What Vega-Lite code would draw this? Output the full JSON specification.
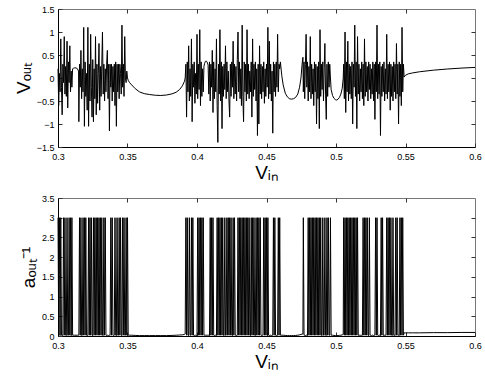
{
"$schema":"https://vega.github.io/schema/vega-lite/v6.json",
"background":"white",
"padding":{"left":13,"top":4,"right":10,"bottom":2},
"spacing":10,
"config":{"view":{"stroke":"#777","strokeWidth":1},"font":"Liberation Sans",
"axis":{"grid":false,"labelFont":"Liberation Sans","labelFontSize":9,"labelColor":"black","labelFlush":false,"labelOverlap":false,"tickSize":-4,"tickColor":"#333","domainColor":"black","domainWidth":1,"titleFont":"Liberation Sans","titleFontSize":19,"titleFontWeight":"normal","titleColor":"black"}},
"datasets":{"d":[
{"vin":0.3,"vout":0.2,"ainv":3},{"vin":0.3005,"vout":-0.6,"ainv":0.02},{"vin":0.301,"vout":0.1,"ainv":3},{"vin":0.3015,"vout":-0.3,"ainv":0.01},{"vin":0.302,"vout":0.85,"ainv":3},{"vin":0.3025,"vout":-0.2,"ainv":0.02},{"vin":0.303,"vout":-0.8,"ainv":0.02},{"vin":0.3035,"vout":0.3,"ainv":0.01},{"vin":0.304,"vout":-0.1,"ainv":3},{"vin":0.3045,"vout":0.9,"ainv":0.02},{"vin":0.305,"vout":-0.35,"ainv":3},{"vin":0.3055,"vout":0.25,"ainv":0.02},{"vin":0.306,"vout":-0.4,"ainv":0.01},{"vin":0.3065,"vout":0.8,"ainv":3},{"vin":0.307,"vout":-0.65,"ainv":0.02},{"vin":0.3075,"vout":0.35,"ainv":0.02},{"vin":0.308,"vout":-0.1,"ainv":3},{"vin":0.3085,"vout":0.7,"ainv":0.02},{"vin":0.309,"vout":-0.3,"ainv":3},{"vin":0.3095,"vout":0.15,"ainv":0.01},{"vin":0.31,"vout":-0.2,"ainv":3},{"vin":0.3105,"vout":0.2,"ainv":0.02},
{"vin":0.311,"vout":0.21,"ainv":0.02},{"vin":0.312,"vout":0.22,"ainv":0.02},{"vin":0.313,"vout":0.22,"ainv":0.02},{"vin":0.314,"vout":0.2,"ainv":0.02},{"vin":0.3148,"vout":0.15,"ainv":0.02},
{"vin":0.315,"vout":-0.95,"ainv":0.02},{"vin":0.3155,"vout":0.3,"ainv":3},{"vin":0.316,"vout":-0.2,"ainv":0.02},{"vin":0.3165,"vout":0.6,"ainv":3},{"vin":0.317,"vout":-0.45,"ainv":0.01},{"vin":0.3175,"vout":0.2,"ainv":0.02},{"vin":0.318,"vout":-0.3,"ainv":3},{"vin":0.3185,"vout":1.1,"ainv":0.02},{"vin":0.319,"vout":-1.05,"ainv":3},{"vin":0.3195,"vout":0.35,"ainv":0.02},{"vin":0.32,"vout":-0.4,"ainv":3},{"vin":0.3205,"vout":0.1,"ainv":0.02},{"vin":0.321,"vout":-0.7,"ainv":0.01},{"vin":0.3215,"vout":1.1,"ainv":0.02},{"vin":0.322,"vout":-1.05,"ainv":3},{"vin":0.3225,"vout":0.3,"ainv":0.02},{"vin":0.323,"vout":-0.5,"ainv":3},{"vin":0.3235,"vout":0.95,"ainv":0.02},{"vin":0.324,"vout":-0.2,"ainv":3},{"vin":0.3245,"vout":-0.85,"ainv":0.02},{"vin":0.325,"vout":0.4,"ainv":0.01},{"vin":0.3255,"vout":-0.95,"ainv":3},{"vin":0.326,"vout":0.2,"ainv":0.02},{"vin":0.3265,"vout":-0.45,"ainv":3},{"vin":0.327,"vout":0.9,"ainv":0.02},{"vin":0.3275,"vout":-0.8,"ainv":3},{"vin":0.328,"vout":0.3,"ainv":0.02},{"vin":0.3285,"vout":-0.55,"ainv":3},{"vin":0.329,"vout":0.1,"ainv":0.02},{"vin":0.3295,"vout":0.75,"ainv":3},{"vin":0.33,"vout":-0.7,"ainv":0.02},{"vin":0.3305,"vout":0.25,"ainv":3},{"vin":0.331,"vout":-0.4,"ainv":0.02},{"vin":0.3315,"vout":0.3,"ainv":3},{"vin":0.332,"vout":1.0,"ainv":0.02},{"vin":0.3325,"vout":-0.35,"ainv":0.01},{"vin":0.333,"vout":0.3,"ainv":3},{"vin":0.3335,"vout":-0.5,"ainv":0.02},{"vin":0.334,"vout":0.2,"ainv":3},{"vin":0.3345,"vout":-0.3,"ainv":0.02},{"vin":0.335,"vout":0.3,"ainv":0.01},{"vin":0.3355,"vout":0.6,"ainv":0.02},{"vin":0.336,"vout":-0.45,"ainv":0.02},{"vin":0.3365,"vout":0.3,"ainv":0.01},{"vin":0.337,"vout":-1.15,"ainv":0.02},{"vin":0.3375,"vout":0.3,"ainv":0.02},{"vin":0.338,"vout":-0.2,"ainv":3},{"vin":0.3385,"vout":0.3,"ainv":0.02},{"vin":0.339,"vout":-0.5,"ainv":3},{"vin":0.3395,"vout":0.25,"ainv":0.02},{"vin":0.34,"vout":-0.3,"ainv":0.01},{"vin":0.3405,"vout":0.3,"ainv":0.02},{"vin":0.341,"vout":-0.6,"ainv":3},{"vin":0.3415,"vout":0.35,"ainv":0.02},{"vin":0.342,"vout":-1.05,"ainv":0.01},{"vin":0.3425,"vout":0.3,"ainv":3},{"vin":0.343,"vout":-0.3,"ainv":0.02},{"vin":0.3435,"vout":0.3,"ainv":0.02},{"vin":0.344,"vout":-0.45,"ainv":3},{"vin":0.3445,"vout":0.3,"ainv":0.02},{"vin":0.345,"vout":0.1,"ainv":3},{"vin":0.3455,"vout":-0.35,"ainv":0.02},{"vin":0.346,"vout":1.15,"ainv":0.01},{"vin":0.3465,"vout":-0.2,"ainv":3},{"vin":0.347,"vout":0.3,"ainv":0.02},{"vin":0.3475,"vout":-0.4,"ainv":3},{"vin":0.348,"vout":0.9,"ainv":0.02},{"vin":0.3485,"vout":0.0,"ainv":0.02},{"vin":0.349,"vout":-0.1,"ainv":3},{"vin":0.3495,"vout":0.15,"ainv":0.02},{"vin":0.35,"vout":0.0,"ainv":3},
{"vin":0.3505,"vout":-0.05,"ainv":0.02},{"vin":0.3515,"vout":-0.1,"ainv":0.02},{"vin":0.353,"vout":-0.15,"ainv":0.02},{"vin":0.3555,"vout":-0.23,"ainv":0.015},{"vin":0.3585,"vout":-0.3,"ainv":0.01},{"vin":0.362,"vout":-0.34,"ainv":0.01},{"vin":0.366,"vout":-0.36,"ainv":0.01},{"vin":0.37,"vout":-0.375,"ainv":0.01},{"vin":0.374,"vout":-0.38,"ainv":0.01},{"vin":0.378,"vout":-0.37,"ainv":0.01},{"vin":0.382,"vout":-0.345,"ainv":0.015},{"vin":0.385,"vout":-0.31,"ainv":0.02},{"vin":0.3875,"vout":-0.25,"ainv":0.025},{"vin":0.3895,"vout":-0.17,"ainv":0.03},{"vin":0.391,"vout":-0.07,"ainv":0.04},{"vin":0.3915,"vout":0.0,"ainv":0.05},
{"vin":0.392,"vout":0.3,"ainv":3},{"vin":0.3925,"vout":-0.85,"ainv":0.02},{"vin":0.393,"vout":0.35,"ainv":3},{"vin":0.3935,"vout":-0.3,"ainv":0.02},{"vin":0.394,"vout":0.7,"ainv":0.01},{"vin":0.3945,"vout":-0.5,"ainv":3},{"vin":0.395,"vout":0.2,"ainv":0.02},{"vin":0.3955,"vout":-0.4,"ainv":0.02},{"vin":0.396,"vout":0.85,"ainv":3},{"vin":0.3965,"vout":-0.95,"ainv":0.02},{"vin":0.397,"vout":0.3,"ainv":3},{"vin":0.3975,"vout":-0.2,"ainv":0.02},{"vin":0.398,"vout":0.35,"ainv":0.01},{"vin":0.3985,"vout":-0.55,"ainv":0.02},{"vin":0.399,"vout":0.1,"ainv":0.02},{"vin":0.3995,"vout":-0.35,"ainv":0.01},{"vin":0.4,"vout":0.95,"ainv":0.02},{"vin":0.4005,"vout":-0.45,"ainv":3},{"vin":0.401,"vout":0.3,"ainv":0.02},{"vin":0.4015,"vout":-0.25,"ainv":3},{"vin":0.402,"vout":1.05,"ainv":0.02},{"vin":0.4025,"vout":-0.6,"ainv":3},{"vin":0.403,"vout":0.35,"ainv":0.02},{"vin":0.4035,"vout":-0.4,"ainv":3},{"vin":0.404,"vout":0.2,"ainv":0.02},{"vin":0.4045,"vout":-0.3,"ainv":3},{"vin":0.405,"vout":0.25,"ainv":0.02},
{"vin":0.4055,"vout":0.32,"ainv":0.02},{"vin":0.406,"vout":0.36,"ainv":0.02},{"vin":0.4065,"vout":0.37,"ainv":0.02},{"vin":0.407,"vout":0.36,"ainv":0.02},{"vin":0.4075,"vout":0.33,"ainv":0.02},{"vin":0.408,"vout":0.28,"ainv":0.02},
{"vin":0.4085,"vout":-0.35,"ainv":0.02},{"vin":0.409,"vout":0.35,"ainv":0.01},{"vin":0.4095,"vout":-0.5,"ainv":3},{"vin":0.41,"vout":0.3,"ainv":0.02},{"vin":0.4105,"vout":-0.2,"ainv":3},{"vin":0.411,"vout":0.6,"ainv":0.02},{"vin":0.4115,"vout":-0.75,"ainv":3},{"vin":0.412,"vout":0.35,"ainv":0.02},{"vin":0.4125,"vout":-0.45,"ainv":0.01},{"vin":0.413,"vout":0.2,"ainv":0.02},{"vin":0.4135,"vout":-0.3,"ainv":0.02},{"vin":0.414,"vout":0.85,"ainv":0.01},{"vin":0.4145,"vout":-0.6,"ainv":3},{"vin":0.415,"vout":-1.4,"ainv":0.02},{"vin":0.4155,"vout":0.3,"ainv":3},{"vin":0.416,"vout":-0.35,"ainv":0.02},{"vin":0.4165,"vout":1.05,"ainv":3},{"vin":0.417,"vout":-0.5,"ainv":0.02},{"vin":0.4175,"vout":0.35,"ainv":3},{"vin":0.418,"vout":-1.1,"ainv":0.02},{"vin":0.4185,"vout":0.25,"ainv":3},{"vin":0.419,"vout":-0.4,"ainv":0.02},{"vin":0.4195,"vout":0.3,"ainv":0.01},{"vin":0.42,"vout":-0.25,"ainv":3},{"vin":0.4205,"vout":0.7,"ainv":0.02},{"vin":0.421,"vout":-0.45,"ainv":0.02},{"vin":0.4215,"vout":0.35,"ainv":3},{"vin":0.422,"vout":-0.3,"ainv":0.02},{"vin":0.4225,"vout":0.15,"ainv":3},{"vin":0.423,"vout":-0.5,"ainv":0.02},{"vin":0.4235,"vout":-0.85,"ainv":3},{"vin":0.424,"vout":0.3,"ainv":0.02},{"vin":0.4245,"vout":-0.4,"ainv":3},{"vin":0.425,"vout":0.35,"ainv":0.02},{"vin":0.4255,"vout":-0.2,"ainv":0.01},{"vin":0.426,"vout":0.8,"ainv":3},{"vin":0.4265,"vout":-0.45,"ainv":0.02},{"vin":0.427,"vout":0.3,"ainv":3},{"vin":0.4275,"vout":-0.35,"ainv":0.02},{"vin":0.428,"vout":0.25,"ainv":0.02},{"vin":0.4285,"vout":-0.5,"ainv":0.01},{"vin":0.429,"vout":0.4,"ainv":0.02},{"vin":0.4295,"vout":1.0,"ainv":3},{"vin":0.43,"vout":-0.3,"ainv":0.02},{"vin":0.4305,"vout":0.35,"ainv":3},{"vin":0.431,"vout":-0.45,"ainv":0.02},{"vin":0.4315,"vout":0.2,"ainv":3},{"vin":0.432,"vout":-0.6,"ainv":0.02},{"vin":0.4325,"vout":1.15,"ainv":3},{"vin":0.433,"vout":-0.4,"ainv":0.02},{"vin":0.4335,"vout":-0.95,"ainv":3},{"vin":0.434,"vout":0.35,"ainv":0.02},{"vin":0.4345,"vout":-0.3,"ainv":3},{"vin":0.435,"vout":0.3,"ainv":0.02},{"vin":0.4355,"vout":-0.5,"ainv":3},{"vin":0.436,"vout":1.05,"ainv":0.02},{"vin":0.4365,"vout":-0.35,"ainv":3},{"vin":0.437,"vout":0.3,"ainv":0.02},{"vin":0.4375,"vout":-0.45,"ainv":3},{"vin":0.438,"vout":0.15,"ainv":0.02},{"vin":0.4385,"vout":-0.3,"ainv":0.01},{"vin":0.439,"vout":0.35,"ainv":3},{"vin":0.4395,"vout":-0.85,"ainv":0.02},{"vin":0.44,"vout":0.85,"ainv":3},{"vin":0.4405,"vout":-0.4,"ainv":0.02},{"vin":0.441,"vout":0.3,"ainv":3},{"vin":0.4415,"vout":-0.25,"ainv":0.02},{"vin":0.442,"vout":0.35,"ainv":0.01},{"vin":0.4425,"vout":-0.5,"ainv":3},{"vin":0.443,"vout":0.2,"ainv":0.02},{"vin":0.4435,"vout":-1.25,"ainv":3},{"vin":0.444,"vout":0.3,"ainv":0.02},{"vin":0.4445,"vout":-1.0,"ainv":3},{"vin":0.445,"vout":0.7,"ainv":0.02},{"vin":0.4455,"vout":-0.35,"ainv":3},{"vin":0.446,"vout":0.3,"ainv":0.02},{"vin":0.4465,"vout":-0.45,"ainv":0.01},{"vin":0.447,"vout":0.25,"ainv":0.02},{"vin":0.4475,"vout":-0.3,"ainv":0.02},{"vin":0.448,"vout":0.35,"ainv":3},{"vin":0.4485,"vout":-0.55,"ainv":0.02},{"vin":0.449,"vout":0.2,"ainv":3},{"vin":0.4495,"vout":-0.4,"ainv":0.02},{"vin":0.45,"vout":0.3,"ainv":3},{"vin":0.4505,"vout":-0.2,"ainv":0.02},{"vin":0.451,"vout":1.1,"ainv":3},{"vin":0.4515,"vout":-0.45,"ainv":0.02},{"vin":0.452,"vout":0.8,"ainv":0.01},{"vin":0.4525,"vout":-0.35,"ainv":0.02},{"vin":0.453,"vout":0.3,"ainv":0.02},{"vin":0.4535,"vout":-0.5,"ainv":0.01},{"vin":0.454,"vout":0.15,"ainv":0.02},{"vin":0.4545,"vout":-1.2,"ainv":0.02},{"vin":0.455,"vout":0.35,"ainv":3},{"vin":0.4555,"vout":-0.3,"ainv":0.02},{"vin":0.456,"vout":0.3,"ainv":3},{"vin":0.4565,"vout":-0.4,"ainv":0.02},{"vin":0.457,"vout":0.35,"ainv":0.01},{"vin":0.4575,"vout":-0.2,"ainv":0.02},{"vin":0.458,"vout":0.95,"ainv":0.02},{"vin":0.4585,"vout":-0.3,"ainv":3},{"vin":0.459,"vout":0.3,"ainv":0.02},{"vin":0.4595,"vout":0.2,"ainv":3},{"vin":0.46,"vout":0.35,"ainv":0.02},
{"vin":0.461,"vout":0.05,"ainv":0.02},{"vin":0.462,"vout":-0.15,"ainv":0.02},{"vin":0.4635,"vout":-0.33,"ainv":0.015},{"vin":0.465,"vout":-0.41,"ainv":0.01},{"vin":0.4665,"vout":-0.45,"ainv":0.01},{"vin":0.468,"vout":-0.46,"ainv":0.01},{"vin":0.4695,"vout":-0.45,"ainv":0.01},{"vin":0.471,"vout":-0.42,"ainv":0.015},{"vin":0.4725,"vout":-0.35,"ainv":0.02},{"vin":0.4738,"vout":-0.2,"ainv":0.03},{"vin":0.4748,"vout":0.0,"ainv":0.04},{"vin":0.4756,"vout":0.3,"ainv":0.05},{"vin":0.4762,"vout":0.45,"ainv":0.05},
{"vin":0.4765,"vout":-0.3,"ainv":3},{"vin":0.477,"vout":0.35,"ainv":0.02},{"vin":0.4775,"vout":-0.45,"ainv":0.02},{"vin":0.478,"vout":0.3,"ainv":0.01},{"vin":0.4785,"vout":0.95,"ainv":0.02},{"vin":0.479,"vout":-0.2,"ainv":0.02},{"vin":0.4795,"vout":0.35,"ainv":0.01},{"vin":0.48,"vout":-0.5,"ainv":3},{"vin":0.4805,"vout":0.25,"ainv":0.02},{"vin":0.481,"vout":-0.3,"ainv":3},{"vin":0.4815,"vout":0.9,"ainv":0.02},{"vin":0.482,"vout":-0.45,"ainv":3},{"vin":0.4825,"vout":0.3,"ainv":0.02},{"vin":0.483,"vout":-0.35,"ainv":3},{"vin":0.4835,"vout":0.2,"ainv":0.02},{"vin":0.484,"vout":-0.6,"ainv":3},{"vin":0.4845,"vout":0.35,"ainv":0.02},{"vin":0.485,"vout":-0.3,"ainv":3},{"vin":0.4855,"vout":0.3,"ainv":0.02},{"vin":0.486,"vout":-1.0,"ainv":3},{"vin":0.4865,"vout":0.25,"ainv":0.02},{"vin":0.487,"vout":-0.45,"ainv":3},{"vin":0.4875,"vout":0.35,"ainv":0.02},{"vin":0.488,"vout":-1.1,"ainv":3},{"vin":0.4885,"vout":1.05,"ainv":0.02},{"vin":0.489,"vout":-0.4,"ainv":3},{"vin":0.4895,"vout":0.3,"ainv":0.02},{"vin":0.49,"vout":-0.25,"ainv":0.01},{"vin":0.4905,"vout":0.35,"ainv":3},{"vin":0.491,"vout":-0.5,"ainv":0.02},{"vin":0.4915,"vout":0.2,"ainv":0.02},{"vin":0.492,"vout":0.75,"ainv":3},{"vin":0.4925,"vout":-0.35,"ainv":0.02},{"vin":0.493,"vout":-0.9,"ainv":0.01},{"vin":0.4935,"vout":0.3,"ainv":3},{"vin":0.494,"vout":-0.4,"ainv":0.02},{"vin":0.4945,"vout":0.35,"ainv":3},{"vin":0.495,"vout":-0.2,"ainv":0.02},{"vin":0.4955,"vout":0.3,"ainv":0.02},{"vin":0.496,"vout":0.0,"ainv":3},
{"vin":0.4965,"vout":-0.25,"ainv":0.02},{"vin":0.4975,"vout":-0.38,"ainv":0.02},{"vin":0.4985,"vout":-0.44,"ainv":0.015},{"vin":0.4995,"vout":-0.47,"ainv":0.01},{"vin":0.5005,"vout":-0.48,"ainv":0.01},{"vin":0.5015,"vout":-0.46,"ainv":0.01},{"vin":0.5025,"vout":-0.42,"ainv":0.015},{"vin":0.5035,"vout":-0.35,"ainv":0.02},{"vin":0.5045,"vout":-0.22,"ainv":0.03},{"vin":0.5052,"vout":0.0,"ainv":0.04},
{"vin":0.5055,"vout":0.3,"ainv":3},{"vin":0.506,"vout":-0.45,"ainv":0.02},{"vin":0.5065,"vout":1.0,"ainv":3},{"vin":0.507,"vout":-0.75,"ainv":0.02},{"vin":0.5075,"vout":0.35,"ainv":3},{"vin":0.508,"vout":-0.3,"ainv":0.02},{"vin":0.5085,"vout":0.8,"ainv":3},{"vin":0.509,"vout":-0.5,"ainv":0.02},{"vin":0.5095,"vout":0.3,"ainv":3},{"vin":0.51,"vout":-0.35,"ainv":0.02},{"vin":0.5105,"vout":0.25,"ainv":3},{"vin":0.511,"vout":-0.45,"ainv":0.02},{"vin":0.5115,"vout":0.35,"ainv":3},{"vin":0.512,"vout":-1.0,"ainv":0.02},{"vin":0.5125,"vout":0.3,"ainv":3},{"vin":0.513,"vout":-0.2,"ainv":0.02},{"vin":0.5135,"vout":1.15,"ainv":3},{"vin":0.514,"vout":-0.4,"ainv":0.02},{"vin":0.5145,"vout":0.35,"ainv":3},{"vin":0.515,"vout":-1.1,"ainv":0.02},{"vin":0.5155,"vout":0.9,"ainv":3},{"vin":0.516,"vout":-0.35,"ainv":0.02},{"vin":0.5165,"vout":0.3,"ainv":0.01},{"vin":0.517,"vout":-0.5,"ainv":0.02},{"vin":0.5175,"vout":0.2,"ainv":0.02},{"vin":0.518,"vout":-0.3,"ainv":0.01},{"vin":0.5185,"vout":0.35,"ainv":0.02},{"vin":0.519,"vout":-0.45,"ainv":0.02},{"vin":0.5195,"vout":0.3,"ainv":3},{"vin":0.52,"vout":-0.6,"ainv":0.02},{"vin":0.5205,"vout":0.85,"ainv":3},{"vin":0.521,"vout":-0.4,"ainv":0.02},{"vin":0.5215,"vout":0.35,"ainv":3},{"vin":0.522,"vout":-0.3,"ainv":0.02},{"vin":0.5225,"vout":0.25,"ainv":3},{"vin":0.523,"vout":-0.5,"ainv":0.02},{"vin":0.5235,"vout":0.35,"ainv":0.01},{"vin":0.524,"vout":-0.25,"ainv":3},{"vin":0.5245,"vout":0.3,"ainv":0.02},{"vin":0.525,"vout":-0.45,"ainv":0.02},{"vin":0.5255,"vout":0.2,"ainv":0.01},{"vin":0.526,"vout":-0.35,"ainv":0.02},{"vin":0.5265,"vout":0.35,"ainv":0.02},{"vin":0.527,"vout":-0.5,"ainv":0.01},{"vin":0.5275,"vout":0.3,"ainv":0.02},{"vin":0.528,"vout":-0.9,"ainv":0.02},{"vin":0.5285,"vout":0.35,"ainv":3},{"vin":0.529,"vout":-0.3,"ainv":0.02},{"vin":0.5295,"vout":1.15,"ainv":3},{"vin":0.53,"vout":-0.45,"ainv":0.02},{"vin":0.5305,"vout":0.3,"ainv":0.01},{"vin":0.531,"vout":-0.35,"ainv":0.02},{"vin":0.5315,"vout":0.35,"ainv":0.02},{"vin":0.532,"vout":-1.25,"ainv":0.01},{"vin":0.5325,"vout":0.25,"ainv":3},{"vin":0.533,"vout":-0.4,"ainv":0.02},{"vin":0.5335,"vout":0.3,"ainv":3},{"vin":0.534,"vout":-0.3,"ainv":0.02},{"vin":0.5345,"vout":0.35,"ainv":0.01},{"vin":0.535,"vout":-0.5,"ainv":0.02},{"vin":0.5355,"vout":0.2,"ainv":0.02},{"vin":0.536,"vout":-0.35,"ainv":0.02},{"vin":0.5365,"vout":0.95,"ainv":3},{"vin":0.537,"vout":-0.45,"ainv":0.02},{"vin":0.5375,"vout":0.3,"ainv":3},{"vin":0.538,"vout":-0.3,"ainv":0.02},{"vin":0.5385,"vout":0.35,"ainv":3},{"vin":0.539,"vout":-0.7,"ainv":0.02},{"vin":0.5395,"vout":0.3,"ainv":3},{"vin":0.54,"vout":-0.4,"ainv":0.02},{"vin":0.5405,"vout":0.25,"ainv":0.01},{"vin":0.541,"vout":-0.5,"ainv":3},{"vin":0.5415,"vout":0.35,"ainv":0.02},{"vin":0.542,"vout":-0.3,"ainv":0.02},{"vin":0.5425,"vout":0.3,"ainv":0.01},{"vin":0.543,"vout":-0.45,"ainv":3},{"vin":0.5435,"vout":0.75,"ainv":0.02},{"vin":0.544,"vout":-0.35,"ainv":3},{"vin":0.5445,"vout":0.3,"ainv":0.02},{"vin":0.545,"vout":-1.0,"ainv":0.02},{"vin":0.5455,"vout":0.35,"ainv":0.01},{"vin":0.546,"vout":-0.4,"ainv":3},{"vin":0.5465,"vout":0.3,"ainv":0.02},{"vin":0.547,"vout":-0.6,"ainv":3},{"vin":0.5475,"vout":1.1,"ainv":0.02},{"vin":0.548,"vout":-0.3,"ainv":3},{"vin":0.5485,"vout":0.3,"ainv":0.02},{"vin":0.549,"vout":0.02,"ainv":0.08},
{"vin":0.55,"vout":0.06,"ainv":0.08},{"vin":0.552,"vout":0.09,"ainv":0.08},{"vin":0.555,"vout":0.11,"ainv":0.08},{"vin":0.56,"vout":0.135,"ainv":0.08},{"vin":0.57,"vout":0.17,"ainv":0.085},{"vin":0.58,"vout":0.195,"ainv":0.085},{"vin":0.59,"vout":0.215,"ainv":0.09},{"vin":0.6,"vout":0.23,"ainv":0.09}
]},
"vconcat":[
{"width":417,"height":138,"data":{"name":"d"},
"layer":[
{"mark":{"type":"line","stroke":"black","strokeWidth":1},
"encoding":{
"x":{"field":"vin","type":"quantitative","scale":{"domain":[0.3,0.6],"nice":false,"zero":false},"axis":{"orient":"bottom","values":[0.3,0.35,0.4,0.45,0.5,0.55,0.6],"format":"~g","labelPadding":9,"title":"Vᵢₙ","titlePadding":2}},
"y":{"field":"vout","type":"quantitative","scale":{"domain":[-1.5,1.5],"nice":false},"axis":{"orient":"left","values":[-1.5,-1,-0.5,0,0.5,1,1.5],"format":"~g","labelPadding":8,"title":"Vₒᵤₜ","titlePadding":3}}}},
{"mark":{"type":"line","opacity":0},
"encoding":{
"x":{"field":"vin","type":"quantitative","scale":{"domain":[0.3,0.6],"nice":false,"zero":false},"axis":{"orient":"top","values":[0.35,0.4,0.45,0.5,0.55],"labels":false,"domain":false,"title":null}},
"y":{"field":"vout","type":"quantitative","scale":{"domain":[-1.5,1.5],"nice":false},"axis":{"orient":"right","values":[-1,-0.5,0,0.5,1],"labels":false,"domain":false,"title":null}}}}
],
"resolve":{"axis":{"x":"independent","y":"independent"}}},
{"width":417,"height":138,"data":{"name":"d"},
"layer":[
{"mark":{"type":"line","stroke":"black","strokeWidth":1},
"encoding":{
"x":{"field":"vin","type":"quantitative","scale":{"domain":[0.3,0.6],"nice":false,"zero":false},"axis":{"orient":"bottom","values":[0.3,0.35,0.4,0.45,0.5,0.55,0.6],"format":"~g","labelPadding":9,"title":"Vᵢₙ","titlePadding":2}},
"y":{"field":"ainv","type":"quantitative","scale":{"domain":[0,3.5],"nice":false},"axis":{"orient":"left","values":[0,0.5,1,1.5,2,2.5,3,3.5],"format":"~g","labelPadding":8,"title":"aₒᵤₜ⁻¹","titlePadding":3}}}},
{"mark":{"type":"line","opacity":0},
"encoding":{
"x":{"field":"vin","type":"quantitative","scale":{"domain":[0.3,0.6],"nice":false,"zero":false},"axis":{"orient":"top","values":[0.35,0.4,0.45,0.5,0.55],"labels":false,"domain":false,"title":null}},
"y":{"field":"ainv","type":"quantitative","scale":{"domain":[0,3.5],"nice":false},"axis":{"orient":"right","values":[0.5,1,1.5,2,2.5,3],"labels":false,"domain":false,"title":null}}}}
],
"resolve":{"axis":{"x":"independent","y":"independent"}}}
]
}
